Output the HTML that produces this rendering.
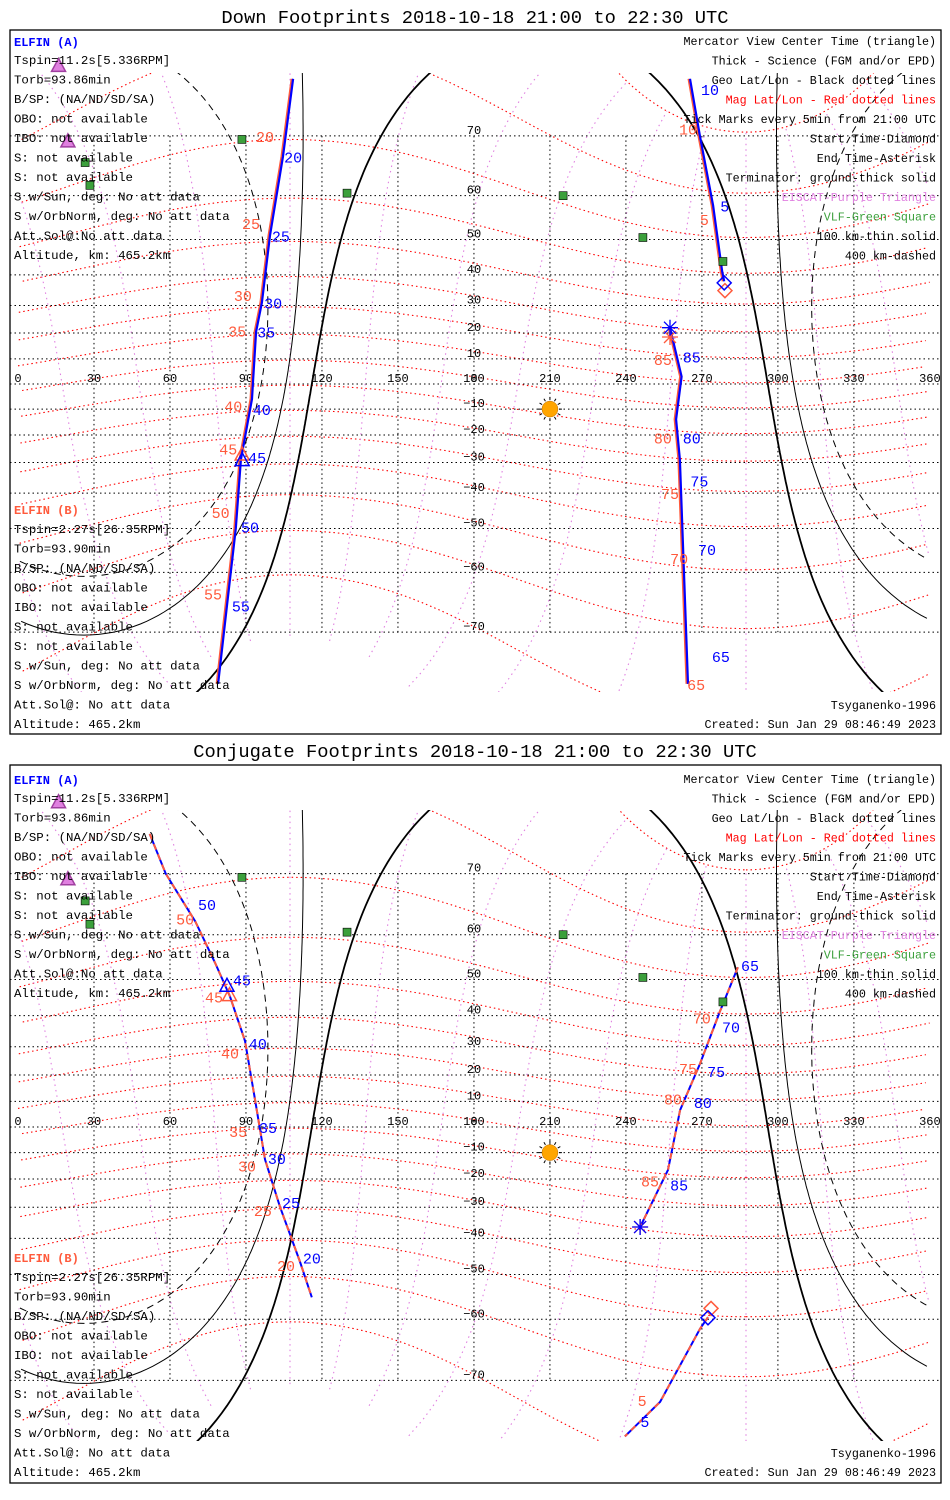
<!DOCTYPE html>
<html><head><meta charset="utf-8"><style>
html,body{margin:0;padding:0;background:#fff;overflow:hidden;width:950px;height:1500px}
svg{display:block;overflow:hidden}
text{font-family:"Liberation Mono",monospace}
</style></head><body>
<svg id="chart" width="950" height="1500" viewBox="0 0 950 1500" xmlns="http://www.w3.org/2000/svg">
<rect width="950" height="1500" fill="#fff"/>
<defs>
<clipPath id="clip1"><rect x="10" y="73" width="931" height="619"/></clipPath>
<clipPath id="clip2"><rect x="10" y="810" width="931" height="631"/></clipPath>
</defs>
<text x="475" y="23" font-size="18.8" text-anchor="middle">Down Footprints 2018-10-18 21:00 to 22:30 UTC</text>
<text x="475" y="757" font-size="18.8" text-anchor="middle">Conjugate Footprints 2018-10-18 21:00 to 22:30 UTC</text>
<rect x="10" y="30" width="931" height="704" fill="none" stroke="#000" stroke-width="1.3"/>
<rect x="10" y="765" width="931" height="718" fill="none" stroke="#000" stroke-width="1.3"/>
<g id="layer"></g>
</svg>
<script>
// ---- data ----
const geoLatTicks = [70,60,50,40,30,20,10,0,-10,-20,-30,-40,-50,-60,-70];
const geoLonTicks = [0,30,60,90,120,150,180,210,240,270,300,330,360];
const magLatLines = [-70,-60,-50,-40,-30,-20,-10,0,10,20,30,40,50,60,70,80];
const magLonLines = [0,30,60,90,120,150,180,210,240,270,300,330];
const subsolarLat = -10, subsolarLon = 210;
const terminatorCenterLat = -9.5, terminatorCenterLon = 206;
const terminatorRadii = [90, 100.1, 109.7];
const vlfLon = [88.4,26.5,28.4,129.9,215.2,246.7,278.3];
const vlfLat = [69.5,66,62,60.5,60,50.5,44];
const eiscatLon = [16,19.7];
const eiscatLat = [77.7,69.3];

// Down footprints (top)
const downLeftLon = [108.6,104.6,99.5,96.3,94,92.8,92.4,88,86,82.5,79];
const downLeftLat = [76.5,67,51,31,20.5,1.5,-6,-29,-50,-66,-76];
const downRightNLon = [278.8,278,274.4,269.2,265.3];
const downRightNLat = [38,41,58,70,76.5];
const downRightSLon = [257.4,262,259.8,261.3,264.5];
const downRightSLat = [22,3,-14,-29,-76];
const downBlueLabels = ["20","25","30","35","40","45","50","55","10","5","85","80","75","70","65"];
const downBlueLon = [108.6,103.8,100.7,98,96.3,94.4,91.6,88,273.2,279,266,266,269,272,277.5];
const downBlueLat = [67,51,31,20.5,-10,-28,-49.5,-66,75.5,58,11,-21,-36,-55,-73];
const downRedLabels = ["20","25","30","35","40","45","50","55","10","5","85","80","75","70","65"];
const downRedLon = [97.5,92,88.8,86.5,85,83,80,77,264.5,271,254.6,254.6,257.4,261,267.7];
const downRedLat = [70,54,33.5,21,-8.5,-25,-45.5,-64,71,55,10,-21,-40,-57,-76];
const downStartBlue = [278.8,37.5], downStartRed = [279.1,35];
const downEndBlue = [257.4,22], downEndRed = [257.4,18.5];
const downCenterBlue = [88.5,-29], downCenterRed = [88.5,-27];

// Conjugate footprints (bottom)
const conjLeftLon = [52,58.3,70,77.8,83.7,89.6,93.6,97.5,103.4,111.3,116];
const conjLeftLat = [74.7,70,62.5,54,45.5,32,10.5,-12.6,-29.8,-46.6,-55.4];
const conjRightSLon = [272.4,269.3,253.5,239.6];
const conjRightSLat = [-59.6,-61.8,-72.7,-76.3];
const conjRightNLon = [284.2,277,269.2,261.4,256.6,245.6];
const conjRightNLat = [53,41,24,6.6,-16.6,-36.5];
const conjBlueLabels = ["50","45","40","35","30","25","20","65","70","75","80","85","5"];
const conjBlueLon = [74.6,88.4,94.7,98.7,102.2,107.8,116,289,281.5,275.6,270.4,261,247.5];
const conjBlueLat = [65.5,50,31.3,0,-12,-28.2,-45.5,53.5,36.6,21.5,9.7,-22,-74.8];
const conjRedLabels = ["50","45","40","35","30","25","20","70","75","80","85","5"];
const conjRedLon = [66,77.4,83.7,86.9,90.4,96.7,105.8,270,264.5,258.6,249.5,246.4];
const conjRedLat = [63,45.5,28,-1.5,-15,-31,-47.5,39.5,22.5,11.2,-20.5,-72.5];
const conjStartBlue = [272.4,-59.7], conjStartRed = [273.6,-57.8];
const conjEndBlue = [245.6,-36.5], conjEndRed = [245.6,-36.5];
const conjCenterBlue = [82.5,48.5], conjCenterRed = [83.5,46];

const leftTextA = ["Tspin=11.2s[5.336RPM]","Torb=93.86min","B/SP: (NA/ND/SD/SA)","OBO: not available","IBO: not available","S: not available","S: not available","S w/Sun, deg: No att data","S w/OrbNorm, deg: No att data","Att.Sol@:No att data","Altitude, km: 465.2km"];
const leftTextB = ["Tspin=2.27s[26.35RPM]","Torb=93.90min","B/SP: (NA/ND/SD/SA)","OBO: not available","IBO: not available","S: not available","S: not available","S w/Sun, deg: No att data","S w/OrbNorm, deg: No att data","Att.Sol@: No att data","Altitude: 465.2km"];
const rightText = ["Mercator View Center Time (triangle)","Thick - Science (FGM and/or EPD)","Geo Lat/Lon - Black dotted lines","Mag Lat/Lon - Red dotted lines","Tick Marks every 5min from 21:00 UTC","Start Time-Diamond","End Time-Asterisk","Terminator: ground-thick solid","EISCAT-Purple Triangle","VLF-Green Square","100 km-thin solid","400 km-dashed"];
const rightColors = ["#000","#000","#000","#f00","#000","#000","#000","#000","#e080e0","#3ca03c","#000","#000"];

// ---- drawing ----
const NS="http://www.w3.org/2000/svg";
const layer=document.getElementById('layer');
function mk(tag,attrs,parent){const e=document.createElementNS(NS,tag);for(const k in attrs)e.setAttribute(k,attrs[k]);(parent||layer).appendChild(e);return e;}
const D=Math.PI/180;
function merc(lat){return Math.log(Math.tan(Math.PI/4+lat*D/2));}
function xs(lon){return 18+lon*2.533;}
function panelScale(P){return function(lat){return P.eq-P.k*merc(lat);};}

function polyPaths(pts,P){
  const ys=panelScale(P);let segs=[],cur=[],px=null;
  pts.forEach(([lon,lat])=>{
    if(lat>85||lat<-85){if(cur.length>1)segs.push(cur);cur=[];px=null;return;}
    lon=((lon%360)+360)%360;const x=xs(lon),y=ys(lat);
    if(px!==null&&Math.abs(x-px)>300){if(cur.length>1)segs.push(cur);cur=[];}
    cur.push([x,y]);px=x;
  });
  if(cur.length>1)segs.push(cur);
  return segs.map(s=>'M'+s.map(p=>p[0].toFixed(1)+','+p[1].toFixed(1)).join('L')).join('');
}
function mag2geo(mlat,mlon){
  const th=9.5*D,ph=287.4*D;
  const x=Math.cos(mlat*D)*Math.cos(mlon*D),y=Math.cos(mlat*D)*Math.sin(mlon*D),z=Math.sin(mlat*D);
  const x1=x*Math.cos(th)+z*Math.sin(th),z1=-x*Math.sin(th)+z*Math.cos(th);
  const X=x1*Math.cos(ph)-y*Math.sin(ph),Y=x1*Math.sin(ph)+y*Math.cos(ph);
  return [Math.atan2(Y,X)/D,Math.asin(Math.max(-1,Math.min(1,z1)))/D];
}
function smallCircle(lc,oc,r){
  const pts=[];
  for(let a=0;a<=360;a+=1){
    const az=a*D,R=r*D,L=lc*D;
    const lat=Math.asin(Math.sin(L)*Math.cos(R)+Math.cos(L)*Math.sin(R)*Math.cos(az));
    const lon=oc*D+Math.atan2(Math.sin(az)*Math.sin(R)*Math.cos(L),Math.cos(R)-Math.sin(L)*Math.sin(lat));
    pts.push([lon/D,lat/D]);
  }
  return pts;
}
function asterisk(g,x,y,c,name){
  const e=mk('path',{d:`M${x-8},${y}L${x+8},${y}M${x},${y-8}L${x},${y+8}M${x-6},${y-6}L${x+6},${y+6}M${x-6},${y+6}L${x+6},${y-6}`,stroke:c,'stroke-width':1.3,fill:'none'},g);
  
  
}
function diamond(g,x,y,c,name){
  const e=mk('path',{d:`M${x},${y-7}L${x+7},${y}L${x},${y+7}L${x-7},${y}Z`,stroke:c,'stroke-width':1.5,fill:'none'},g);
  
  
}
function triangle(g,x,y,c,fill,name){
  const e=mk('path',{d:`M${x},${y-7}L${x+7},${y+6}L${x-7},${y+6}Z`,stroke:c,'stroke-width':1.5,fill:fill},g);
  
  
}
function zip(a,b){return a.map((v,i)=>[v,b[i]]);}

function drawPanel(P){
  const ys=panelScale(P);
  const g=mk('g',{'clip-path':`url(#${P.clip})`});
  
  
  magLatLines.forEach(m=>{
    const pts=[];for(let l=0;l<=360;l+=2)pts.push(mag2geo(m,l));
    const e=mk('path',{d:polyPaths(pts,P),stroke:'#f00','stroke-width':1.1,fill:'none','stroke-dasharray':'1.5,3'},g);
    
    
  });
  magLonLines.forEach(m=>{
    const pts=[];for(let l=-80;l<=80;l+=2)pts.push(mag2geo(l,m));
    const e=mk('path',{d:polyPaths(pts,P),stroke:'#e080e0','stroke-width':1.1,fill:'none','stroke-dasharray':'1.5,4'},g);
    
    
  });
  geoLatTicks.forEach(l=>{
    const y=ys(l);
    const e=mk('line',{x1:10,x2:941,y1:y,y2:y,stroke:'#000','stroke-width':1,'stroke-dasharray':'1.5,3'},g);
    
    
    const t=mk('text',{x:474,y:y-2,'font-size':12,'text-anchor':'middle',fill:'#000'},g);
    t.textContent=String(l).replace('-','\u2212');
    
    
  });
  geoLonTicks.forEach(l=>{
    const x=xs(l);
    if(l>0&&l<360){
      const e=mk('line',{x1:x,x2:x,y1:ys(70),y2:ys(-70),stroke:'#000','stroke-width':1,'stroke-dasharray':'1.5,3'},g);
      
      
    }
    const t=mk('text',{x:x,y:ys(0)-2,'font-size':12,'text-anchor':'middle',fill:'#000'},g);
    t.textContent=String(l);
    
    
  });
  terminatorRadii.forEach((r,i)=>{
    const e=mk('path',{d:polyPaths(smallCircle(terminatorCenterLat,terminatorCenterLon,r),P),stroke:'#000','stroke-width':i==0?1.8:1,fill:'none','stroke-dasharray':i==2?'7,5':'none'},g);
    
    
  });
  const sx=xs(subsolarLon),sy=ys(subsolarLat);
  let rays='';for(let a=0;a<360;a+=30){rays+=`M${sx+9*Math.cos(a*D)},${sy+9*Math.sin(a*D)}L${sx+12*Math.cos(a*D)},${sy+12*Math.sin(a*D)}`;}
  const sr=mk('path',{d:rays,stroke:'#000','stroke-width':1},g);
  
  
  const sc=mk('circle',{cx:sx,cy:sy,r:8,fill:'#ffa500',stroke:'#c07000','stroke-width':0.5},g);
  
  
  vlfLon.forEach((lo,i)=>{
    const r=mk('rect',{x:xs(lo)-4,y:ys(vlfLat[i])-4,width:8,height:8,fill:'#3ca03c',stroke:'#000','stroke-width':0.6},layer);
    
    
  });
  eiscatLon.forEach((lo,i)=>{triangle(layer,xs(lo),ys(eiscatLat[i]),'#a040a0','#e080e0','eiscat-station');});
  P.tracks.forEach(([lon,lat])=>{
    const pts=zip(lon,lat),d=polyPaths(pts,P);
    if(P.dashed){
      const b=mk('path',{d:d,stroke:'#00f','stroke-width':2,fill:'none'},g);
      
      
      const r=mk('path',{d:d,stroke:'#ff5a3c','stroke-width':2,fill:'none','stroke-dasharray':'6,5'},g);
      
      
    }else{
      const r=mk('path',{d:d,stroke:'#ff5a3c','stroke-width':2,fill:'none',transform:'translate(-1.5,0)'},g);
      
      
      const b=mk('path',{d:d,stroke:'#00f','stroke-width':2.2,fill:'none'},g);
      
      
    }
  });
  P.redLabels.forEach((s,i)=>{
    const t=mk('text',{x:xs(P.redLon[i]),y:ys(P.redLat[i])+6,'font-size':15,'text-anchor':'middle',fill:'#ff5a3c','font-family':'Liberation Sans, sans-serif'},layer);
    t.textContent=s;
    
    
  });
  P.blueLabels.forEach((s,i)=>{
    const t=mk('text',{x:xs(P.blueLon[i]),y:ys(P.blueLat[i])+6,'font-size':15,'text-anchor':'middle',fill:'#00f','font-family':'Liberation Sans, sans-serif'},layer);
    t.textContent=s;
    
    
  });
  diamond(g,xs(P.startRed[0]),ys(P.startRed[1]),'#ff5a3c','start-diamond-b');
  diamond(g,xs(P.startBlue[0]),ys(P.startBlue[1]),'#00f','start-diamond-a');
  asterisk(g,xs(P.endRed[0]),ys(P.endRed[1]),'#ff5a3c','end-asterisk-b');
  asterisk(g,xs(P.endBlue[0]),ys(P.endBlue[1]),'#00f','end-asterisk-a');
  triangle(g,xs(P.centerRed[0]),ys(P.centerRed[1]),'#ff5a3c','none','center-triangle-b');
  triangle(g,xs(P.centerBlue[0]),ys(P.centerBlue[1]),'#00f','none','center-triangle-a');

  const dy=P.dy, dyb=P.dy+P.extra;
  const ta=mk('text',{x:14,y:46+dy,'font-size':12,fill:'#00f','font-weight':'bold','font-family':'Liberation Sans, sans-serif'});
  ta.textContent='ELFIN (A)';
  
  
  leftTextA.forEach((s,i)=>{
    const t=mk('text',{x:14,y:64+dy+i*19.5,'font-size':12.4,fill:'#000'});
    t.textContent=s;
    
    
  });
  const tb=mk('text',{x:14,y:514+dyb,'font-size':12,fill:'#ff5a3c','font-weight':'bold','font-family':'Liberation Sans, sans-serif'});
  tb.textContent='ELFIN (B)';
  
  
  leftTextB.forEach((s,i)=>{
    const t=mk('text',{x:14,y:533+dyb+i*19.5,'font-size':12.4,fill:'#000'});
    t.textContent=s;
    
    
  });
  rightText.forEach((s,i)=>{
    const t=mk('text',{x:936,y:45+dy+i*19.5,'font-size':11.7,fill:rightColors[i],'text-anchor':'end'});
    t.textContent=s;
    
    
  });
  const ts=mk('text',{x:936,y:709+dyb,'font-size':11.7,fill:'#000','text-anchor':'end'});
  ts.textContent='Tsyganenko-1996';
  
  
  const tc=mk('text',{x:936,y:728+dyb,'font-size':11.7,fill:'#000','text-anchor':'end'});
  tc.textContent='Created: Sun Jan 29 08:46:49 2023';
  
  
}

drawPanel({name:'down',clip:'clip1',eq:384,k:143,dy:0,extra:0,dashed:false,
  tracks:[[downLeftLon,downLeftLat],[downRightNLon,downRightNLat],[downRightSLon,downRightSLat]],
  blueLabels:downBlueLabels,blueLon:downBlueLon,blueLat:downBlueLat,
  redLabels:downRedLabels,redLon:downRedLon,redLat:downRedLat,
  startBlue:downStartBlue,startRed:downStartRed,endBlue:downEndBlue,endRed:downEndRed,
  centerBlue:downCenterBlue,centerRed:downCenterRed});
drawPanel({name:'conjugate',clip:'clip2',eq:1127,k:146,dy:738,extra:10,dashed:true,
  tracks:[[conjLeftLon,conjLeftLat],[conjRightSLon,conjRightSLat],[conjRightNLon,conjRightNLat]],
  blueLabels:conjBlueLabels,blueLon:conjBlueLon,blueLat:conjBlueLat,
  redLabels:conjRedLabels,redLon:conjRedLon,redLat:conjRedLat,
  startBlue:conjStartBlue,startRed:conjStartRed,endBlue:conjEndBlue,endRed:conjEndRed,
  centerBlue:conjCenterBlue,centerRed:conjCenterRed});
</script>
</body></html>
